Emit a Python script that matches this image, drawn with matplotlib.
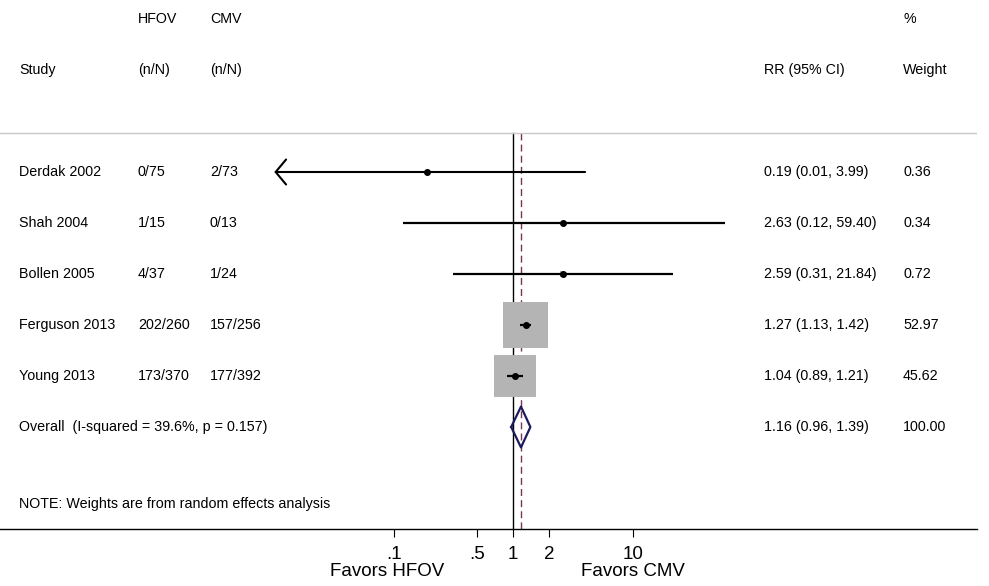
import numpy as np
import matplotlib.pyplot as plt
import matplotlib.transforms as mtransforms

plt.rcParams["font.family"] = ["Liberation Sans", "DejaVu Sans"]

# data
studies = ["Derdak 2002", "Shah 2004", "Bollen 2005", "Ferguson 2013", "Young 2013"]
hfov = ["0/75", "1/15", "4/37", "202/260", "173/370"]
cmv = ["2/73", "0/13", "1/24", "157/256", "177/392"]
rr = [0.19, 2.63, 2.59, 1.27, 1.04]
lower = [0.01, 0.12, 0.31, 1.13, 0.89]
upper = [3.99, 59.40, 21.84, 1.42, 1.21]
weight = [0.36, 0.34, 0.72, 52.97, 45.62]

overall_label = "Overall  (I-squared = 39.6%, p = 0.157)"
overall_rr, overall_lo, overall_hi = 1.16, 0.96, 1.39
overall_weight = 100.00

tick_vals = [0.1, 0.5, 1, 2, 10]
tick_labels = [".1", ".5", "1", "2", "10"]

W, H = 989, 586
fig = plt.figure(figsize=(W / 100, H / 100), dpi=100)
ax = fig.add_axes([0, (H - 529) / H, 977 / W, 529 / H])

# log scale: x_px = 513.3 + 119.5*log10(x)
ax.set_xscale("log")
ax.set_xlim(10 ** (-513.3 / 119.5), 10 ** ((977 - 513.3) / 119.5))
# rows: y_px = 121 + 51*row
ax.set_ylim((529 - 121) / 51, (0 - 121) / 51)

n = len(studies)
rows = np.arange(1, n + 1)
ov_row = n + 1
top_line = (133 - 121) / 51
bottom = (529 - 121) / 51

# reference lines
ax.plot([1, 1], [top_line, bottom], color="black", lw=1.0, zorder=1)
ax.plot([overall_rr, overall_rr], [top_line, bottom], color="#7a3455",
        lw=1.0, ls=(0, (5, 3)), zorder=1)
ax.axhline(top_line, color="#c8c8c8", lw=1.0, zorder=1)

# weight boxes
side_pt = 6.2 * np.sqrt(weight) * 0.72
ax.scatter(rr, rows, s=side_pt ** 2, marker="s", color="#b4b4b4",
           linewidths=0, zorder=2)

# confidence intervals
for i in range(n):
    if lower[i] <= 0.01:
        ax.annotate("", xy=(lower[i], rows[i]), xytext=(upper[i], rows[i]),
                    arrowprops=dict(arrowstyle="->,head_length=7.5,head_width=9",
                                    mutation_scale=1, lw=1.5, color="black",
                                    shrinkA=0, shrinkB=0), zorder=3)
    else:
        ax.plot([lower[i], upper[i]], [rows[i], rows[i]], color="black",
                lw=1.6, zorder=3, solid_capstyle="butt")
ax.plot(rr, rows, "o", color="black", ms=4.0, zorder=4)

# overall diamond
dh = 0.4
ax.plot([overall_lo, overall_rr, overall_hi, overall_rr, overall_lo],
        [ov_row, ov_row - dh, ov_row, ov_row + dh, ov_row],
        color="#1c1c5c", lw=1.6, zorder=4)

# axis styling
for s in ["top", "left", "right"]:
    ax.spines[s].set_visible(False)
ax.spines["bottom"].set_linewidth(1.0)
ax.set_yticks([])
ax.set_xticks(tick_vals)
ax.set_xticklabels(tick_labels, fontsize=13.5)
ax.minorticks_off()
ax.tick_params(axis="x", length=6, width=0.8, pad=6)

# table text
tr = mtransforms.blended_transform_factory(fig.transFigure, ax.transData)
fs = 10.3
cols = [19 / W, 138 / W, 210 / W, 764 / W, 903 / W]
head_row1 = (19 - 121) / 51
head_row2 = (70 - 121) / 51
ax.text(cols[1], head_row1, "HFOV", transform=tr, fontsize=fs, va="center")
ax.text(cols[2], head_row1, "CMV", transform=tr, fontsize=fs, va="center")
ax.text(cols[4], head_row1, "%", transform=tr, fontsize=fs, va="center")
ax.text(cols[0], head_row2, "Study", transform=tr, fontsize=fs, va="center")
ax.text(cols[1], head_row2, "(n/N)", transform=tr, fontsize=fs, va="center")
ax.text(cols[2], head_row2, "(n/N)", transform=tr, fontsize=fs, va="center")
ax.text(cols[3], head_row2, "RR (95% CI)", transform=tr, fontsize=fs, va="center")
ax.text(cols[4], head_row2, "Weight", transform=tr, fontsize=fs, va="center")

for i in range(n):
    y = rows[i]
    ax.text(cols[0], y, studies[i], transform=tr, fontsize=fs, va="center")
    ax.text(cols[1], y, hfov[i], transform=tr, fontsize=fs, va="center")
    ax.text(cols[2], y, cmv[i], transform=tr, fontsize=fs, va="center")
    ax.text(cols[3], y, f"{rr[i]:.2f} ({lower[i]:.2f}, {upper[i]:.2f})",
            transform=tr, fontsize=fs, va="center")
    ax.text(cols[4], y, f"{weight[i]:.2f}", transform=tr, fontsize=fs, va="center")

ax.text(cols[0], ov_row, overall_label, transform=tr, fontsize=fs, va="center")
ax.text(cols[3], ov_row, f"{overall_rr:.2f} ({overall_lo:.2f}, {overall_hi:.2f})",
        transform=tr, fontsize=fs, va="center")
ax.text(cols[4], ov_row, f"{overall_weight:.2f}", transform=tr, fontsize=fs, va="center")

ax.text(cols[0], (504 - 121) / 51, "NOTE: Weights are from random effects analysis",
        transform=tr, fontsize=fs, va="center")

# favours labels
fig.text(387.5 / W, 1 - 572 / H, "Favors HFOV", fontsize=13.5, ha="center", va="center")
fig.text(633 / W, 1 - 572 / H, "Favors CMV", fontsize=13.5, ha="center", va="center")

fig.savefig("out.png", dpi=100, facecolor="white")
